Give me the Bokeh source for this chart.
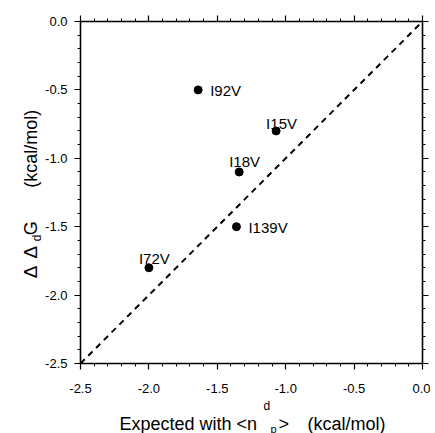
import numpy as np
from bokeh.plotting import figure
from bokeh.layouts import row, column
from bokeh.models import (LinearAxis, Range1d, Label, Slope, PrintfTickFormatter,
                          SingleIntervalTicker)
from bokeh.embed import file_html
from bokeh.resources import INLINE

# ---- data ----
mutants = ["I92V", "I15V", "I18V", "I139V", "I72V"]
expected = [-1.64, -1.07, -1.34, -1.36, -2.00]   # Expected with <n^d_p> (kcal/mol)
ddg = [-0.50, -0.80, -1.10, -1.50, -1.80]        # ΔΔdG (kcal/mol)
axis_min, axis_max = -2.5, 0.0
tick_step = 0.5

# label placement (screen px): dx, dy(up), baseline
label_style = {
    "I92V": (12, -1, "middle"),
    "I15V": (-10, 7, "alphabetic"),
    "I18V": (-10, 10, "alphabetic"),
    "I139V": (12, -1, "middle"),
    "I72V": (-10, 9, "alphabetic"),
}

FONT = "Liberation Sans"
FW = 342
YLAB_W = 42
MAIN_H = 397
TOTAL_W = 429
XLAB_H = 36


def make_axis(show_labels):
    ax = LinearAxis(ticker=SingleIntervalTicker(interval=tick_step, num_minor_ticks=5),
                    formatter=PrintfTickFormatter(format="%.1f" if show_labels else ""))
    ax.axis_line_width = 1.6
    ax.axis_line_color = "black"
    ax.major_tick_line_color = "black"
    ax.minor_tick_line_color = "black"
    ax.major_tick_line_width = 1.2
    ax.minor_tick_line_width = 1
    ax.major_tick_out = 6
    ax.major_tick_in = 0
    ax.minor_tick_out = 3
    ax.minor_tick_in = 0
    ax.major_label_text_font = FONT
    ax.major_label_text_color = "black"
    ax.major_label_text_font_size = "13px"
    if not show_labels:
        ax.major_label_text_color = None
        ax.major_label_standoff = 0
    return ax


p = figure(frame_width=FW, frame_height=FW, output_backend="svg", toolbar_location=None,
           x_range=Range1d(axis_min, axis_max), y_range=Range1d(axis_min, axis_max),
           min_border_left=37, min_border_top=21, min_border_right=8,
           min_border_bottom=34, x_axis_location=None, y_axis_location=None)
p.grid.visible = False
p.outline_line_color = None

bottom = make_axis(True)
bottom.major_label_standoff = 14
left = make_axis(True)
left.major_label_standoff = 7
p.add_layout(bottom, "below")
p.add_layout(left, "left")
p.add_layout(make_axis(False), "above")
p.add_layout(make_axis(False), "right")

# diagonal y = x
p.add_layout(Slope(gradient=1, y_intercept=0, line_color="black", line_width=2,
                   line_dash="6 5"))

p.scatter(expected, ddg, size=8, color="black")

for name, x, y in zip(mutants, expected, ddg):
    ox, oy, bl = label_style[name]
    p.add_layout(Label(x=x, y=y, x_offset=ox, y_offset=oy, text=name,
                       text_font=FONT, text_font_size="15px", text_color="black",
                       text_baseline=bl, text_align="left"))


def text_fig(w, h):
    f = figure(width=w, height=h, x_range=Range1d(0, w), y_range=Range1d(h, 0),
               min_border=0, toolbar_location=None, output_backend="svg",
               x_axis_location=None, y_axis_location=None)
    f.grid.visible = False
    f.outline_line_color = None
    return f


def lab(f, text, x, y, size, angle=0.0):
    f.add_layout(Label(x=x, y=y, text=text, text_font=FONT, text_font_size=size,
                       text_color="black", angle=angle, text_align="left",
                       text_baseline="alphabetic"))


# y axis label: ΔΔdG  (kcal/mol), rotated
ylab = text_fig(YLAB_W, MAIN_H)
rot = np.pi / 2
lab(ylab, "Δ", 30, 298, "19px", rot)
lab(ylab, "Δ", 30, 275, "19px", rot)
lab(ylab, "d", 36, 255, "12px", rot)
lab(ylab, "G", 30, 248, "18px", rot)
lab(ylab, "(kcal/mol)", 30, 193, "18px", rot)

# x axis label: Expected with <n^d_p>  (kcal/mol)
xlab = text_fig(TOTAL_W, XLAB_H)
lab(xlab, "Expected with <n", 119, 26, "18px")
lab(xlab, "d", 263, 8, "12px")
lab(xlab, "p", 270, 31, "11px")
lab(xlab, ">", 278, 26, "18px")
lab(xlab, "(kcal/mol)", 307, 26, "18px")

layout = column(row(ylab, p), xlab)
open("out.html", "w").write(file_html(layout, INLINE))
